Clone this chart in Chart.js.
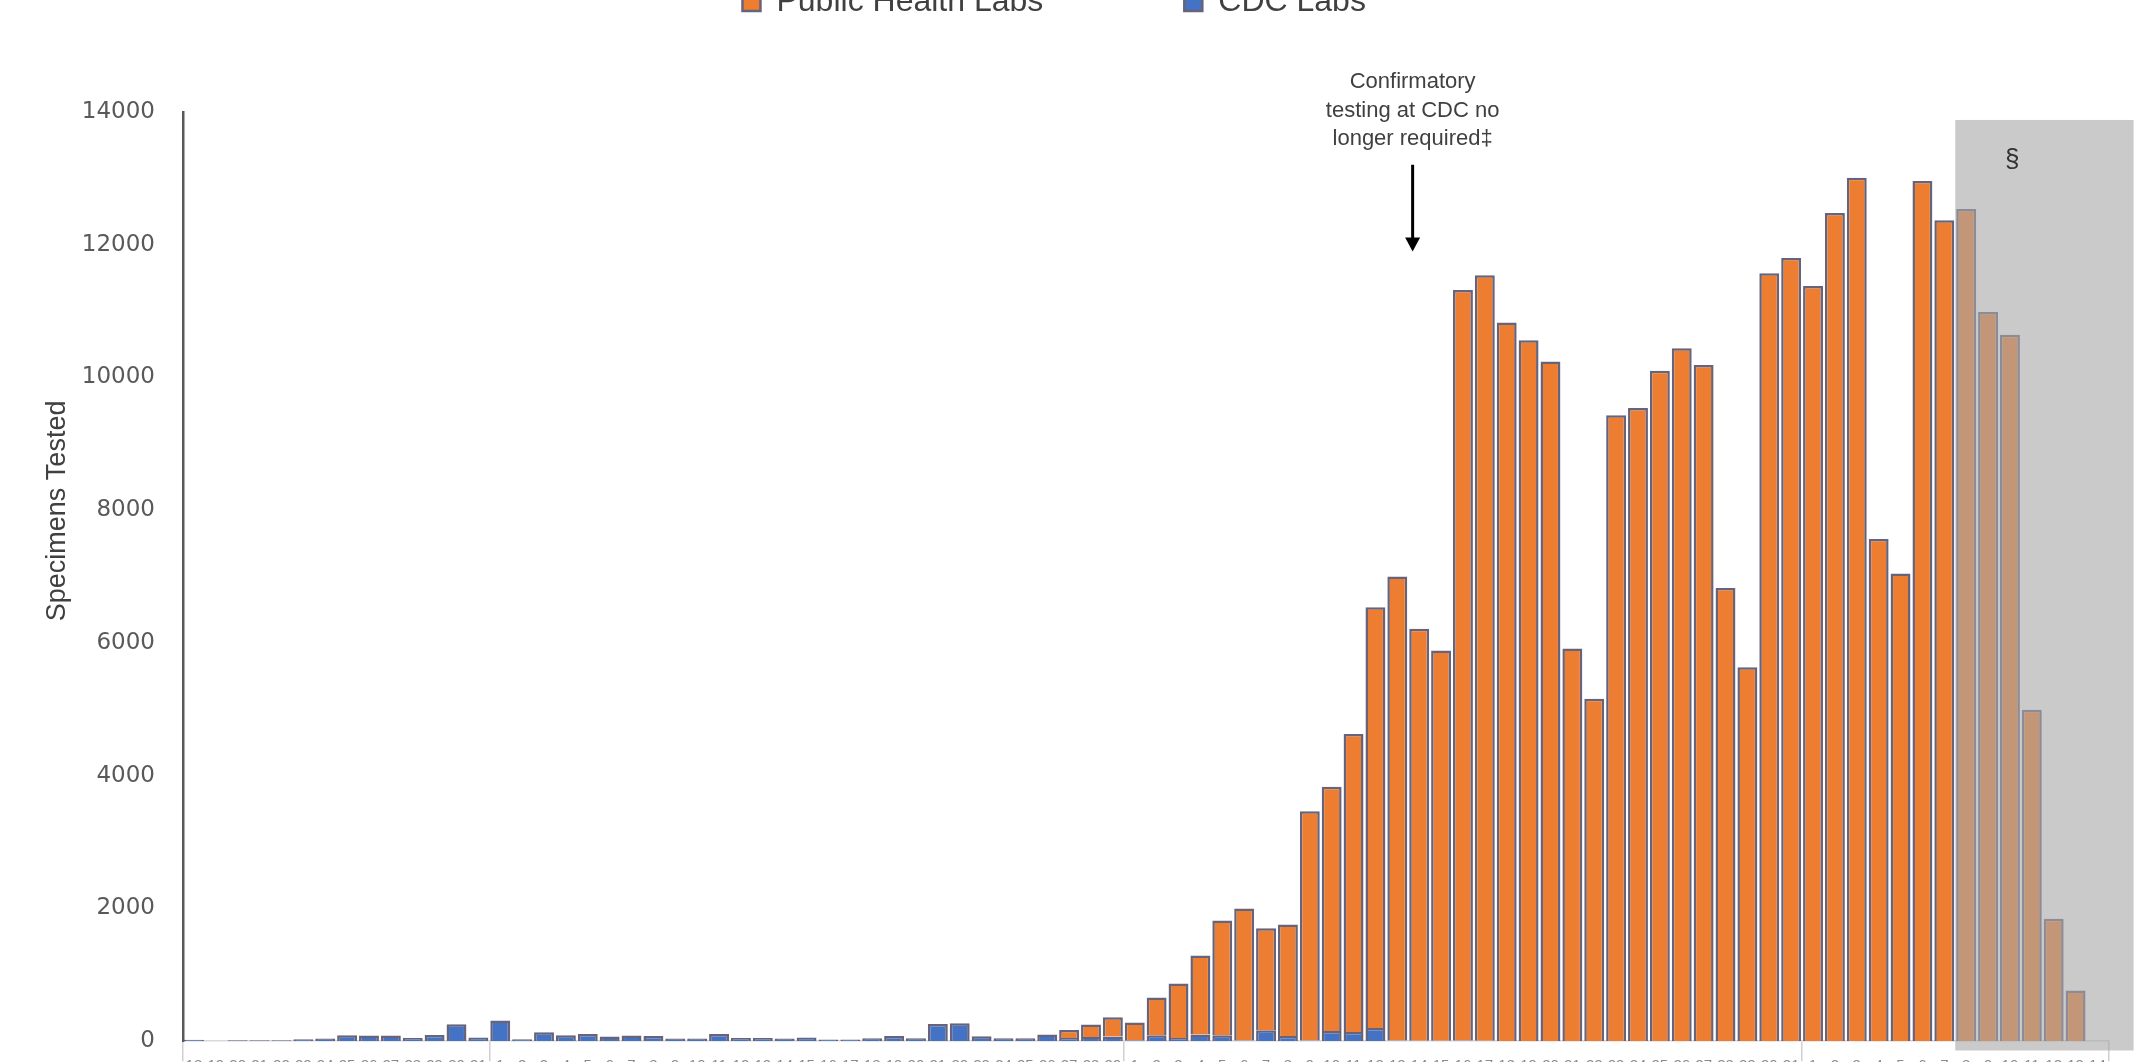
<!DOCTYPE html>
<html><head><meta charset="utf-8">
<script src="https://cdn.jsdelivr.net/npm/chart.js@4.4.1/dist/chart.umd.min.js"></script>
<style>
html,body{margin:0;padding:0;background:#fff;overflow:hidden;width:2151px;height:1062px;}
#wrap{position:absolute;left:0;top:-155px;width:2151px;height:1238px;}
</style></head><body>
<div id="wrap"><canvas id="c" width="2151" height="1238"></canvas></div>
<script>
// Days from Jan 18 to Apr 14, 2020
const categories = [
 '18','19','20','21','22','23','24','25','26','27','28','29','30','31',
 '1','2','3','4','5','6','7','8','9','10','11','12','13','14','15','16','17','18','19','20','21','22','23','24','25','26','27','28','29',
 '1','2','3','4','5','6','7','8','9','10','11','12','13','14','15','16','17','18','19','20','21','22','23','24','25','26','27','28','29','30','31',
 '1','2','3','4','5','6','7','8','9','10','11','12','13','14'
];
const cdcLabs = [
 20,0,15,15,15,30,40,90,85,85,50,95,255,55,
 310,30,135,90,110,70,85,80,40,40,110,50,50,40,55,25,25,45,80,45,260,270,75,45,45,100,50,65,70,
 15,90,50,100,90,10,165,80,10,155,140,200,10,5,5,10,5,0,0,0,0,0,0,0,0,0,0,0,0,0,0,
 0,0,0,0,0,0,0,0,0,0,0,0,0,0
];
const publicHealthLabs = [
 0,0,0,0,0,0,0,0,0,0,0,0,0,0,
 0,0,0,0,0,0,0,0,0,0,0,0,0,0,0,0,0,0,0,0,0,0,0,0,0,0,120,185,290,
 265,570,820,1190,1730,1990,1535,1680,3455,3680,4490,6340,6990,6210,5880,11310,11535,10830,10560,10240,5915,5160,9430,9540,10100,10440,10190,6830,5635,11570,11800,
 11380,12480,13010,7565,7045,12960,12370,12540,10985,10645,4995,1845,765,0
];
const yTicks = [0,2000,4000,6000,8000,10000,12000,14000];
const seriesNames = ['Public Health Labs','CDC Labs'];
const yTitle = 'Specimens Tested';
const annotationLines = ['Confirmatory','testing at CDC no','longer required\u2021'];
const annotationIndex = 56;     // Mar 14
const shadedFromIndex = 81;     // Apr 8
const shadeSymbol = '\u00A7';

const monthStarts = [0].concat(categories.map((c,i)=> (c==='1' ? i : -1)).filter(i=>i>0));

const decor = {
  id: 'decor',
  afterDatasetsDraw(chart) {
    const {ctx, scales:{x, y}} = chart;
    const cw = x.getPixelForValue(1) - x.getPixelForValue(0);
    const x0 = x.getPixelForValue(shadedFromIndex) - cw/2;
    const x1 = x.getPixelForValue(categories.length - 1) + cw/2 + 1.15*cw;
    const yt = y.getPixelForValue(13880), yb = y.getPixelForValue(-140);
    ctx.save();
    ctx.fillStyle = 'rgba(166,166,166,0.6)';
    ctx.fillRect(x0, yt, x1 - x0, yb - yt);
    ctx.restore();
  },
  afterDraw(chart) {
    const {ctx, scales:{x, y}, chartArea} = chart;
    const cw = x.getPixelForValue(1) - x.getPixelForValue(0);
    ctx.save();
    // section sign in shaded region
    ctx.fillStyle = '#333333';
    ctx.font = '26px "Liberation Sans", Arial, sans-serif';
    ctx.textAlign = 'center'; ctx.textBaseline = 'middle';
    ctx.fillText(shadeSymbol, x.getPixelForValue(83) + 0.1*cw, y.getPixelForValue(13280));
    // annotation text
    const ax = x.getPixelForValue(annotationIndex) - 0.3*cw;
    ctx.fillStyle = '#404040';
    ctx.font = '22px "Liberation Sans", Arial, sans-serif';
    const lineVals = [14450, 14010, 13590];
    annotationLines.forEach((t,i)=> ctx.fillText(t, ax, y.getPixelForValue(lineVals[i])));
    // arrow
    const ay0 = y.getPixelForValue(13205), ay1 = y.getPixelForValue(11900);
    ctx.strokeStyle = '#000'; ctx.fillStyle = '#000'; ctx.lineWidth = 3;
    ctx.beginPath(); ctx.moveTo(ax, ay0); ctx.lineTo(ax, ay1 - 12); ctx.stroke();
    ctx.beginPath(); ctx.moveTo(ax - 7.5, ay1 - 14); ctx.lineTo(ax + 7.5, ay1 - 14); ctx.lineTo(ax, ay1); ctx.closePath(); ctx.fill();
    // y axis title
    ctx.translate(chartArea.left - 125, y.getPixelForValue(7990));
    ctx.rotate(-Math.PI/2);
    ctx.fillStyle = '#404040';
    ctx.font = '27px "Liberation Sans", Arial, sans-serif';
    ctx.fillText(yTitle, 0, 0);
    ctx.restore();
  }
};

const barBorder = '#66637a';
new Chart(document.getElementById('c'), {
  type: 'bar',
  data: {
    labels: categories,
    datasets: [
      { label: seriesNames[1], data: cdcLabs, backgroundColor: '#4472C4', borderColor: barBorder, borderWidth: 2.5,
        categoryPercentage: 0.91, barPercentage: 1 },
      { label: seriesNames[0], data: publicHealthLabs, backgroundColor: '#ED7D31', borderColor: barBorder, borderWidth: 2.5,
        categoryPercentage: 0.91, barPercentage: 1 }
    ]
  },
  options: {
    responsive: false,
    animation: false,
    layout: { padding: { left: 0, right: 42.6, top: 0, bottom: 0 } },
    plugins: {
      legend: {
        position: 'top', reverse: true, weight: 3000,
        labels: { font: { family: 'Liberation Sans', size: 32 }, color: '#404040', boxWidth: 18, boxHeight: 18, padding: 141 }
      },
      subtitle: { display: true, text: ' ', font: { size: 10 }, padding: { top: 0, bottom: 72 } },
      tooltip: { enabled: false }
    },
    scales: {
      x: {
        stacked: true,
        afterFit: s => { s.height = 40; },
        grid: {
          display: true, drawOnChartArea: false, drawTicks: true, tickLength: 20, offset: true, lineWidth: 1.5,
          color: c => (c.index === undefined || monthStarts.includes(c.index)) ? '#D0D0D0' : 'rgba(0,0,0,0)'
        },
        border: { display: true, color: '#D9D9D9', width: 1.5 },
        ticks: { autoSkip: false, maxRotation: 0, minRotation: 0, padding: -4, color: '#8a8a8a',
                 font: { family: 'Liberation Sans', size: 15 } }
      },
      y: {
        stacked: true, min: 0, max: 14000,
        afterFit: s => { s.width = 183; },
        afterBuildTicks: s => { s.ticks = yTicks.map(v => ({ value: v })); },
        grid: { display: false, drawTicks: false },
        border: { display: true, color: '#595959', width: 2.5 },
        ticks: { padding: 28, color: '#595959', font: { family: 'DejaVu Sans', size: 23 },
                 callback: v => String(v) }
      }
    }
  },
  plugins: [decor]
});
</script>
</body></html>
